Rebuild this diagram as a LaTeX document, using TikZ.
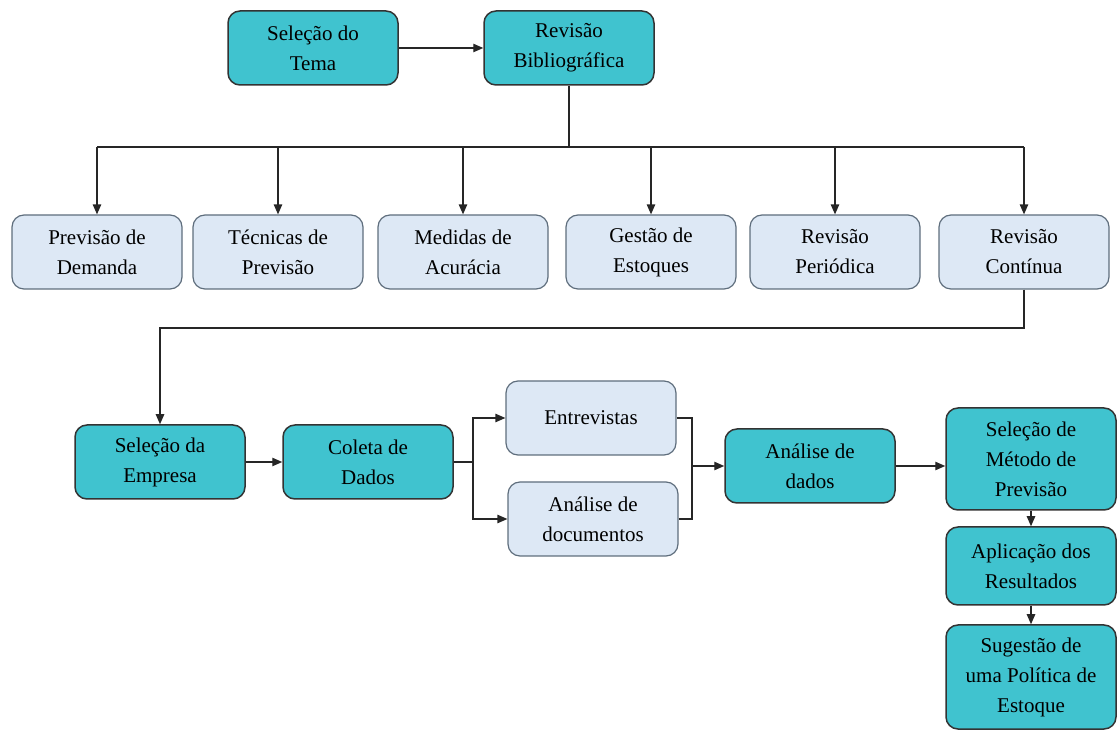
\documentclass[tikz,border=0pt]{standalone}
\usepackage{fontspec}
\setmainfont{Liberation Serif}
\usepackage{tikz}
\usetikzlibrary{arrows.meta}

\definecolor{tealbox}{RGB}{64,195,207}
\definecolor{palebox}{RGB}{221,232,245}
\definecolor{paleedge}{RGB}{95,110,125}

\begin{document}
\begin{tikzpicture}[x=0.5pt,y=-0.5pt,
        mainbox/.style={draw=black!80,fill=tealbox,line width=0.75pt,rounded corners=6pt,
            minimum width=85pt,minimum height=37pt,align=center,inner sep=2pt,
            font=\fontsize{10.5}{15}\selectfont},
        topicbox/.style={mainbox,draw=paleedge,fill=palebox,line width=0.6pt},
        link/.style={line width=0.65pt,black!85},
        arrow/.style={link,-{Triangle[length=5pt,width=4.2pt]}}]
        \useasboundingbox (0,0) rectangle (1119,731);
        % first row
        \node[mainbox] (tema) at (313,48) {Seleção do\\Tema};
        \node[mainbox] (biblio) at (569,48) {Revisão\\Bibliográfica};
        % literature topics
        \node[topicbox] (d1) at (97,252) {Previsão de\\Demanda};
        \node[topicbox] (d2) at (278,252) {Técnicas de\\Previsão};
        \node[topicbox] (d3) at (463,252) {Medidas de\\Acurácia};
        \node[topicbox] (d4) at (651,252) {Gestão de\\Estoques};
        \node[topicbox] (d5) at (835,252) {Revisão\\Periódica};
        \node[topicbox] (d6) at (1024,252) {Revisão\\Contínua};
        % case study
        \node[mainbox] (empresa) at (160,462) {Seleção da\\Empresa};
        \node[mainbox] (coleta) at (368,462) {Coleta de\\Dados};
        \node[topicbox] (entrev) at (591,418) {Entrevistas};
        \node[topicbox] (anadoc) at (593,519) {Análise de\\documentos};
        \node[mainbox] (analise) at (810,466) {Análise de\\dados};
        \node[mainbox,minimum height=51pt] (metodo) at (1031,459) {Seleção de\\Método de\\Previsão};
        \node[mainbox,minimum height=39pt] (aplic) at (1031,566) {Aplicação dos\\Resultados};
        \node[mainbox,minimum height=52pt] (sugest) at (1031,677) {Sugestão de\\uma Política de\\Estoque};
        \coordinate (bus) at (567,147);
        \coordinate (turn) at (0,328);
        \coordinate (split) at (473,462);
        \coordinate (merge) at (692,466);
        % connectors
        \draw[arrow] (tema) -- (biblio);
        \draw[link] (biblio.south) -- (biblio.south |- bus);
        \draw[link] (d1 |- bus) -- (d6 |- bus);
        \foreach \d in {d1,d2,d3,d4,d5,d6}
            \draw[arrow] (\d |- bus) -- (\d.north);
        \draw[arrow] (d6.south) -- (d6.south |- turn) -| (empresa.north);
        \draw[arrow] (empresa) -- (coleta);
        \draw[link] (coleta.east) -- (split);
        \draw[arrow] (split) |- (entrev.west);
        \draw[arrow] (split) |- (anadoc.west);
        \draw[link] (entrev.east) -| (merge);
        \draw[link] (anadoc.east) -| (merge);
        \draw[arrow] (merge) -- (analise.west);
        \draw[arrow] (analise.east) -- (analise.east -| metodo.west);
        \draw[arrow] (metodo) -- (aplic);
        \draw[arrow] (aplic) -- (sugest);
\end{tikzpicture}
\end{document}
